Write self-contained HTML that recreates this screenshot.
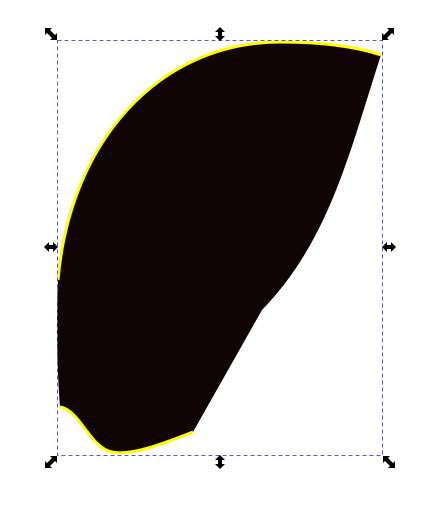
<!DOCTYPE html>
<html><head><meta charset="utf-8"><style>html,body{margin:0;padding:0;background:#fff;width:447px;height:511px;overflow:hidden}</style></head>
<body>
<svg width="447" height="511" viewBox="0 0 447 511">
<defs>
<g id="dbl"><path d="M-6,-6 L1,-6 L-1,-4 L4,1 L1,4 L-4,-1 L-6,1 Z M6,6 L-1,6 L1,4 L-4,-1 L-1,-4 L4,1 L6,-1 Z" fill="#000"/></g>
<g id="vert"><path d="M0,-7 L5,-2 L2,-2 L2,2 L5,2 L0,7 L-5,2 L-2,2 L-2,-2 L-5,-2 Z" fill="#000"/></g>
</defs>
<path d="M58,280 C70,140 160,42 280,42 C330,42 360,48 381,55 C350,150 330,240 262,310 L193,432 C160,445 130,456 112,452 C90,448 80,410 60,407 C57,370 56,320 58,280 Z" fill="#100404"/>
<path d="M58,280 C70,140 160,42 280,42 C330,42 360,48 381,55" fill="none" stroke="#ffff00" stroke-width="3"/>
<path d="M193,432 C160,445 130,456 112,452 C90,448 80,410 60,407" fill="none" stroke="#ffff00" stroke-width="3"/>
<rect x="57.5" y="40.5" width="325" height="415" fill="none" stroke="#5555dd" stroke-dasharray="4,3"/>
<use href="#dbl" x="51" y="34"/>
<use href="#dbl" x="389" y="462"/>
<use href="#dbl" x="388" y="34" transform="rotate(90 388 34)"/>
<use href="#dbl" x="51" y="462" transform="rotate(90 51 462)"/>
<use href="#vert" x="220" y="34"/>
<use href="#vert" x="220" y="462"/>
<use href="#vert" x="51" y="247" transform="rotate(90 51 247)"/>
<use href="#vert" x="389" y="247" transform="rotate(90 389 247)"/>
</svg>
</body></html>
